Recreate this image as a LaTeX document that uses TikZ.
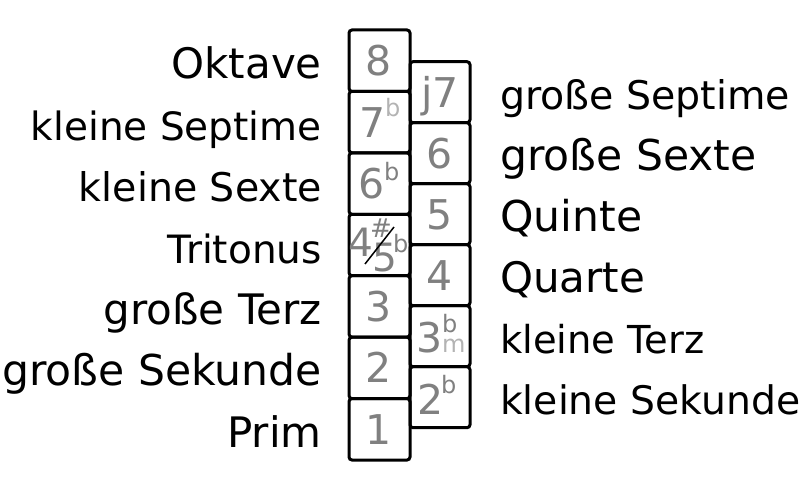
\documentclass[tikz,border=0pt]{standalone}
\usepackage{fontspec}
\setmainfont{DejaVu Sans}
\definecolor{dgray}{HTML}{808080}
\definecolor{lgray}{HTML}{B3B3B3}
\newcommand{\fs}[1]{\fontsize{#1}{#1}\selectfont}
\begin{document}
\begin{tikzpicture}[x=1pt,y=-1pt]
\useasboundingbox (0,0) rectangle (800,492);
\tikzset{
 lbox/.style={draw=black,line width=3pt,rounded corners=3pt,minimum width=61pt,minimum height=61.43pt,inner sep=0pt},
 rbox/.style={draw=black,line width=3pt,rounded corners=3pt,minimum width=60pt,minimum height=61pt,inner sep=0pt},
 llab/.style={anchor=base east,inner sep=0pt,text=black},
 rlab/.style={anchor=base west,inner sep=0pt,text=black},
 dig/.style={anchor=base,inner sep=0pt,text=dgray,font=\fs{41}},
 supd/.style={anchor=base west,inner sep=0pt,text=dgray,font=\fs{24}},
 supl/.style={anchor=base west,inner sep=0pt,text=lgray,font=\fs{24}},
}
% left column boxes
\node[lbox] (b8) at (379.5,60.7) {};
\node[lbox] (b7) at (379.5,122.1) {};
\node[lbox] (b6) at (379.5,183.6) {};
\node[lbox] (b45) at (379.5,245.0) {};
\node[lbox] (b3) at (379.5,306.4) {};
\node[lbox] (b2) at (379.5,367.9) {};
\node[lbox] (b1) at (379.5,429.3) {};
% right column boxes
\node[rbox] (r7) at (440,92.2) {};
\node[rbox] (r6) at (440,153.2) {};
\node[rbox] (r5) at (440,214.2) {};
\node[rbox] (r4) at (440,275.2) {};
\node[rbox] (r3) at (440,336.2) {};
\node[rbox] (r2) at (440,397.2) {};
% digits left
\node[dig] (d8) at (379,75.7) {8};
\node[dig] (d7) at (373,137.5) {7};
\node[supl] (d7b) at (385,117) {b};
\node[dig] (d6) at (372,198.6) {6};
\node[supd] (d6b) at (384,180) {b};
\node[dig,font=\fs{39}] (d4) at (361,256.5) {4};
\node[supd,font=\fs{26}] (d4s) at (370,237) {\#};
\node[dig,font=\fs{39}] (d5) at (384.5,271) {5};
\node[supd] (d5b) at (393,252) {b};
\coordinate (sl1) at (365,264);
\coordinate (sl2) at (394,227);
\draw[line width=1.5pt] (sl1) -- (sl2);
\node[dig] (d3) at (379,321.4) {3};
\node[dig] (d2) at (379,382.9) {2};
\node[dig] (d1) at (379,444.3) {1};
% digits right
\node[dig] (dj7) at (440,107.2) {j7};
\node[dig] (dr6) at (440,168.2) {6};
\node[dig] (dr5) at (440,229.2) {5};
\node[dig] (dr4) at (440,290.2) {4};
\node[dig] (dr3) at (430,352.5) {3};
\node[supd] (dr3b) at (442,332) {b};
\node[supl] (dr3m) at (442,352.5) {m};
\node[dig] (dr2) at (431,414.5) {2};
\node[supd] (dr2b) at (441,393) {b};
% left labels
\node[llab,font=\fs{42}] (l8) at (322,78.7) {Oktave};
\node[llab,font=\fs{39}] (l7) at (322,140.1) {kleine Septime};
\node[llab,font=\fs{39.5}] (l6) at (322,201.6) {kleine Sexte};
\node[llab,font=\fs{39}] (l45) at (322,263) {Tritonus};
\node[llab,font=\fs{42}] (l3) at (322,324.4) {große Terz};
\node[llab,font=\fs{42.5}] (l2) at (322,385.9) {große Sekunde};
\node[llab,font=\fs{42}] (l1) at (322,447.3) {Prim};
% right labels
\node[rlab,font=\fs{39.5}] (lr7) at (500,109.2) {große Septime};
\node[rlab,font=\fs{42.5}] (lr6) at (500,170.2) {große Sexte};
\node[rlab,font=\fs{42.5}] (lr5) at (500,231.2) {Quinte};
\node[rlab,font=\fs{42}] (lr4) at (500,292.2) {Quarte};
\node[rlab,font=\fs{38.5}] (lr3) at (500,353.2) {kleine Terz};
\node[rlab,font=\fs{39.3}] (lr2) at (500,414.2) {kleine Sekunde};
\end{tikzpicture}
\end{document}
